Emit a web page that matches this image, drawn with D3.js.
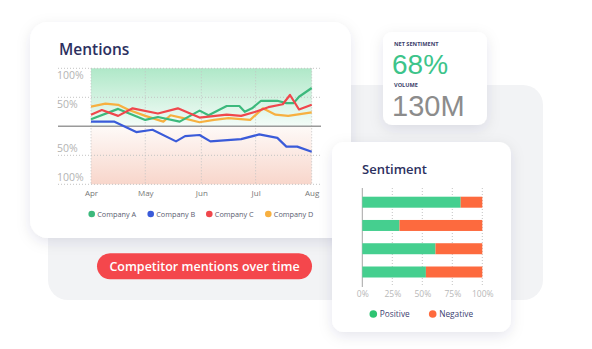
<!DOCTYPE html>
<html>
<head>
<meta charset="utf-8">
<script src="https://cdn.jsdelivr.net/npm/d3@7"></script>
<style>
  body { margin: 0; background: #fff; }
  svg { display: block; font-family: "Open Sans", sans-serif; }
</style>
</head>
<body>
<div id="plot"></div>
<script>
// chart values
const months = ["Apr", "May", "Jun", "Jul", "Aug"];
const monthDates = ["2023-04-01", "2023-05-01", "2023-06-01", "2023-07-01", "2023-08-01"];
const companies = ["Company A", "Company B", "Company C", "Company D"];
const companyColors = ["#3cb97c", "#3a5bd9", "#f0474c", "#f7b040"];

const companyA = [["2023-04-01", 12], ["2023-04-16", 30], ["2023-05-01", 11], ["2023-05-08", 16],
  ["2023-05-20", 8], ["2023-05-31", 27], ["2023-06-05", 19], ["2023-06-15", 35], ["2023-06-22", 35],
  ["2023-06-25", 25], ["2023-06-29", 31], ["2023-07-04", 44], ["2023-07-13", 44], ["2023-07-18", 40],
  ["2023-07-22", 40], ["2023-07-25", 51], ["2023-08-01", 66]];
const companyB = [["2023-04-01", 8], ["2023-04-14", 8], ["2023-04-26", -10], ["2023-05-05", -6],
  ["2023-05-18", -26], ["2023-05-23", -17], ["2023-05-31", -15], ["2023-06-06", -26], ["2023-06-23", -22],
  ["2023-07-03", -14], ["2023-07-13", -20], ["2023-07-18", -35], ["2023-07-24", -35], ["2023-08-01", -44]];
const companyC = [["2023-04-01", 20], ["2023-04-07", 28], ["2023-04-16", 18], ["2023-04-24", 31],
  ["2023-05-08", 22], ["2023-05-19", 31], ["2023-05-31", 15], ["2023-06-15", 20], ["2023-06-23", 18],
  ["2023-07-01", 25], ["2023-07-08", 33], ["2023-07-16", 38], ["2023-07-20", 54], ["2023-07-25", 29],
  ["2023-08-01", 37]];
const companyD = [["2023-04-01", 34], ["2023-04-09", 39], ["2023-04-16", 37], ["2023-04-22", 28],
  ["2023-05-01", 18], ["2023-05-11", 8], ["2023-05-15", 19], ["2023-05-22", 14], ["2023-05-31", 7],
  ["2023-06-08", 11], ["2023-06-16", 14], ["2023-06-28", 11], ["2023-07-05", 31], ["2023-07-12", 20],
  ["2023-07-19", 18], ["2023-08-01", 24]];
const yTicks = [100, 50, -50, -100];

const sentimentRows = ["r1", "r2", "r3", "r4"];
const positive = [82, 31, 61, 53];
const negative = [18, 69, 39, 47];
const pctTicks = [0, 25, 50, 75, 100];
const sentimentKeys = ["Positive", "Negative"];

const netSentiment = "68%";
const volume = "130M";

const width = 592, height = 349;
const navy = "#2c3060";

const svg = d3.select("div#plot")
  .append("svg")
    .attr("width", width)
    .attr("height", height);

// soft card shadow
const defs = svg.append("defs");
defs.append("filter")
    .attr("id", "shadow")
    .attr("x", "-20%").attr("y", "-20%")
    .attr("width", "140%").attr("height", "150%")
  .append("feDropShadow")
    .attr("dx", 0).attr("dy", 4)
    .attr("stdDeviation", 7)
    .attr("flood-color", "#1c2245")
    .attr("flood-opacity", 0.10);

const gUp = defs.append("linearGradient").attr("id", "gUp")
    .attr("x1", 0).attr("y1", 0).attr("x2", 0).attr("y2", 1);
gUp.append("stop").attr("offset", "0%").attr("stop-color", "#afe8c8");
gUp.append("stop").attr("offset", "100%").attr("stop-color", "#f4fcf8");
const gDown = defs.append("linearGradient").attr("id", "gDown")
    .attr("x1", 0).attr("y1", 0).attr("x2", 0).attr("y2", 1);
gDown.append("stop").attr("offset", "0%").attr("stop-color", "#fefaf8");
gDown.append("stop").attr("offset", "100%").attr("stop-color", "#f8d6cb");

// grey backdrop panel
svg.append("rect")
  .attr("x", 48).attr("y", 85)
  .attr("width", 495).attr("height", 215)
  .attr("rx", 20)
  .attr("fill", "#f2f3f5");

// ---------- Mentions card ----------
svg.append("rect")
  .attr("x", 30).attr("y", 22)
  .attr("width", 321).attr("height", 216)
  .attr("rx", 18)
  .attr("fill", "#fff")
  .attr("filter", "url(#shadow)");

svg.append("text")
  .attr("x", 59).attr("y", 55)
  .attr("font-size", 15.5).attr("font-weight", 600)
  .attr("fill", navy)
  .text("Mentions");

const parse = d3.timeParse("%Y-%m-%d");
const x = d3.scaleTime()
  .domain([parse(monthDates[0]), parse(monthDates[monthDates.length - 1])])
  .range([91, 311.7]);
const y = d3.scaleLinear()
  .domain([-100, 100])
  .range([184.3, 68.3]);

// shaded halves
svg.append("rect")
  .attr("x", x.range()[0]).attr("y", y(100))
  .attr("width", x.range()[1] - x.range()[0]).attr("height", y(0) - y(100))
  .attr("fill", "url(#gUp)");
svg.append("rect")
  .attr("x", x.range()[0]).attr("y", y(0))
  .attr("width", x.range()[1] - x.range()[0]).attr("height", y(-100) - y(0))
  .attr("fill", "url(#gDown)");

// dotted grid
svg.append("g")
  .selectAll("line")
  .data(yTicks)
  .join("line")
    .attr("x1", 58).attr("x2", 321)
    .attr("y1", d => y(d)).attr("y2", d => y(d))
    .attr("stroke", "#c4c4c4")
    .attr("stroke-dasharray", "1,2");
svg.append("g")
  .selectAll("line")
  .data(monthDates)
  .join("line")
    .attr("x1", d => x(parse(d))).attr("x2", d => x(parse(d)))
    .attr("y1", y(100)).attr("y2", y(-100))
    .attr("stroke", "#c4c4c4")
    .attr("stroke-dasharray", "1,2");

// zero line
svg.append("line")
  .attr("x1", 58).attr("x2", 321)
  .attr("y1", y(0)).attr("y2", y(0))
  .attr("stroke", "#9a9a9a")
  .attr("stroke-width", 1.5);

// y labels (absolute %), sitting on the zero side of each line
const yAxis = svg.append("g")
  .attr("transform", "translate(57,0)")
  .call(d3.axisRight(y).tickValues(yTicks).tickSize(0).tickPadding(0)
    .tickFormat(d => Math.abs(d) + "%"));
yAxis.select(".domain").remove();
yAxis.selectAll("text")
  .attr("font-family", "Open Sans")
  .attr("font-size", 10.5)
  .attr("fill", "#b3b3b3")
  .attr("dy", d => d > 0 ? 10.5 : -3.5);

// x labels
const xAxis = svg.append("g")
  .attr("transform", "translate(0,186)")
  .call(d3.axisBottom(x).tickValues(monthDates.map(parse)).tickSize(0).tickPadding(0)
    .tickFormat((d, i) => months[i]));
xAxis.select(".domain").remove();
xAxis.selectAll("text")
  .attr("font-family", "Open Sans")
  .attr("font-size", 8)
  .attr("fill", "#777")
  .attr("dy", 9.5);

// lines
const series = [companyA, companyB, companyC, companyD];
const line = d3.line()
  .x(d => x(parse(d[0])))
  .y(d => y(d[1]));
const drawOrder = [3, 0, 2, 1];
svg.append("g")
  .selectAll("path")
  .data(drawOrder)
  .join("path")
    .attr("d", i => line(series[i]))
    .attr("fill", "none")
    .attr("stroke", i => companyColors[i])
    .attr("stroke-width", 2.2)
    .attr("stroke-linejoin", "round");

// legend
const legendX = [91.7, 150.7, 209.3, 268.3];
const legend = svg.append("g");
companies.forEach((c, i) => {
  legend.append("circle")
    .attr("cx", legendX[i]).attr("cy", 214)
    .attr("r", 3.3)
    .attr("fill", companyColors[i]);
  legend.append("text")
    .attr("x", legendX[i] + 5.5).attr("y", 216.7)
    .attr("font-size", 7.3)
    .attr("fill", "#5a5d70")
    .text(c);
});

// pill caption
svg.append("rect")
  .attr("x", 97).attr("y", 253.3)
  .attr("width", 215).attr("height", 26)
  .attr("rx", 13)
  .attr("fill", "#f4474c");
svg.append("text")
  .attr("x", 204.5).attr("y", 270.5)
  .attr("text-anchor", "middle")
  .attr("font-size", 12.5).attr("font-weight", 600)
  .attr("fill", "#fff")
  .text("Competitor mentions over time");

// ---------- metric card ----------
svg.append("rect")
  .attr("x", 383).attr("y", 32)
  .attr("width", 104).attr("height", 93)
  .attr("rx", 9)
  .attr("fill", "#fff")
  .attr("filter", "url(#shadow)");
svg.append("text")
  .attr("x", 394).attr("y", 45.5)
  .attr("font-size", 5.6).attr("font-weight", 700)
  .attr("fill", "#3b3f6b")
  .text("NET SENTIMENT");
svg.append("text")
  .attr("x", 392).attr("y", 73.5)
  .attr("font-family", "Liberation Sans")
  .attr("font-size", 28)
  .attr("fill", "#3cc48a")
  .text(netSentiment);
svg.append("text")
  .attr("x", 394).attr("y", 86.5)
  .attr("font-size", 5.6).attr("font-weight", 700)
  .attr("fill", "#3b3f6b")
  .text("VOLUME");
svg.append("text")
  .attr("x", 392).attr("y", 115.5)
  .attr("font-family", "Liberation Sans")
  .attr("font-size", 29)
  .attr("fill", "#8c8c8c")
  .text(volume);

// ---------- Sentiment card ----------
svg.append("rect")
  .attr("x", 332).attr("y", 142)
  .attr("width", 179).attr("height", 190)
  .attr("rx", 12)
  .attr("fill", "#fff")
  .attr("filter", "url(#shadow)");
svg.append("text")
  .attr("x", 362).attr("y", 173.5)
  .attr("font-size", 13).attr("font-weight", 600)
  .attr("fill", navy)
  .text("Sentiment");

const sx = d3.scaleLinear().domain([0, 100]).range([362.3, 482.3]);
const sy = d3.scalePoint().domain(sentimentRows).range([202.2, 272]);
const barH = 11;

svg.append("g")
  .selectAll("line")
  .data(pctTicks)
  .join("line")
    .attr("x1", d => sx(d)).attr("x2", d => sx(d))
    .attr("y1", 188).attr("y2", 287)
    .attr("stroke", d => d === 0 ? "#a5a5a5" : "#c4c4c4")
    .attr("stroke-dasharray", d => d === 0 ? null : "1,2");

const sentColors = ["#45cf8f", "#fd6a3e"];
svg.append("g")
  .selectAll("rect")
  .data(sentimentRows)
  .join("rect")
    .attr("x", sx(0))
    .attr("y", d => sy(d) - barH / 2)
    .attr("width", (d, i) => sx(positive[i]) - sx(0))
    .attr("height", barH)
    .attr("fill", sentColors[0]);
svg.append("g")
  .selectAll("rect")
  .data(sentimentRows)
  .join("rect")
    .attr("x", (d, i) => sx(positive[i]))
    .attr("y", d => sy(d) - barH / 2)
    .attr("width", (d, i) => sx(positive[i] + negative[i]) - sx(positive[i]))
    .attr("height", barH)
    .attr("fill", sentColors[1]);

const sAxis = svg.append("g")
  .attr("transform", "translate(0,289)")
  .call(d3.axisBottom(sx).tickValues(pctTicks).tickSize(0).tickPadding(0)
    .tickFormat(d => d + "%"));
sAxis.select(".domain").remove();
sAxis.selectAll("text")
  .attr("font-family", "Open Sans")
  .attr("font-size", 8.5)
  .attr("fill", "#b8b8b8")
  .attr("dy", 8);

const sLegendX = [373.3, 432.7];
sentimentKeys.forEach((k, i) => {
  svg.append("circle")
    .attr("cx", sLegendX[i]).attr("cy", 314)
    .attr("r", 3.8)
    .attr("fill", i === 0 ? "#2dc472" : "#ff6a3d");
  svg.append("text")
    .attr("x", sLegendX[i] + 6.5).attr("y", 317)
    .attr("font-size", 8.3)
    .attr("fill", "#3d4270")
    .text(k);
});
</script>
</body>
</html>
